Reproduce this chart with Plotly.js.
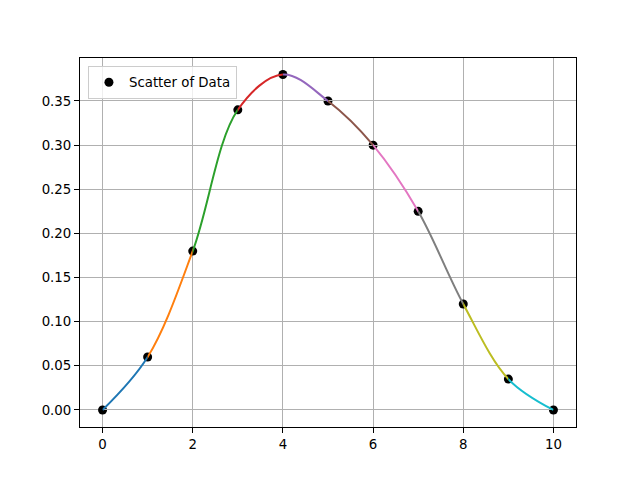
<!DOCTYPE html>
<html>
<head>
<meta charset="utf-8">
<script src="https://cdn.plot.ly/plotly-3.0.1.min.js"></script>
<style>
  html, body { margin: 0; padding: 0; background: #fff; }
  #chart { width: 640px; height: 480px; }
</style>
</head>
<body>
<div id="chart"></div>
<script>
// data
const xs = [0, 1, 2, 3, 4, 5, 6, 7, 8, 9, 10];
const ys = [0.0, 0.06, 0.18, 0.34, 0.38, 0.35, 0.30, 0.225, 0.12, 0.035, 0.0];
const xTicks = [0, 2, 4, 6, 8, 10];
const xRange = [-0.5, 10.5];
const yRange = [-0.0193, 0.3987];

// tab10, one colour per segment
const SEG_COLORS = ['#1f77b4', '#ff7f0e', '#2ca02c', '#d62728', '#9467bd',
                    '#8c564b', '#e377c2', '#7f7f7f', '#bcbd22', '#17becf'];

const FONT = { family: 'DejaVu Sans, sans-serif', size: 13.33, color: '#000' };

const traces = [{
  x: xs, y: ys, type: 'scatter', mode: 'markers', name: 'Scatter of Data',
  marker: { color: '#000', size: 9 }, xaxis: 'x', yaxis: 'y', cliponaxis: false,
}];

const layout = {
  width: 640, height: 480,
  paper_bgcolor: '#fff', plot_bgcolor: 'rgba(0,0,0,0)',
  font: FONT,
  margin: { l: 80, r: 64, t: 58, b: 53 },
  showlegend: true,
  legend: {
    x: 0.016, y: 0.978, xanchor: 'left', yanchor: 'top',
    bgcolor: 'rgba(255,255,255,0.8)', bordercolor: '#cccccc', borderwidth: 1,
    font: FONT,
  },
  xaxis: {
    range: xRange, tickvals: xTicks, ticks: 'outside', ticklen: 5, tickcolor: '#000',
    showgrid: true, gridcolor: '#b0b0b0', gridwidth: 1, zeroline: false,
    showline: true, linecolor: '#000', linewidth: 1, mirror: true,
  },
  yaxis: {
    range: yRange, dtick: 0.05, tick0: 0, tickformat: '.2f',
    ticks: 'outside', ticklen: 5, tickcolor: '#000',
    showgrid: true, gridcolor: '#b0b0b0', gridwidth: 1, zeroline: false,
    showline: true, linecolor: '#000', linewidth: 1, mirror: true,
  },
};

// each segment: whole spline drawn on its own hidden x axis whose domain
// covers only [k, k+1], so the plot-area clip leaves just that piece
const span = xRange[1] - xRange[0];
for (let k = 0; k < xs.length - 1; k++) {
  const id = k + 2;
  layout['xaxis' + id] = {
    domain: [(xs[k] - xRange[0]) / span, (xs[k + 1] - xRange[0]) / span],
    range: [xs[k], xs[k + 1]], anchor: 'y', visible: false,
    showgrid: false, zeroline: false, fixedrange: true,
  };
  traces.push({
    x: xs, y: ys, type: 'scatter', mode: 'lines', showlegend: false,
    xaxis: 'x' + id, yaxis: 'y',
    line: { color: SEG_COLORS[k], width: 2, shape: 'spline', smoothing: 1 },
    hoverinfo: 'skip',
  });
}

Plotly.newPlot('chart', traces, layout, { displayModeBar: false, staticPlot: true });
</script>
</body>
</html>
